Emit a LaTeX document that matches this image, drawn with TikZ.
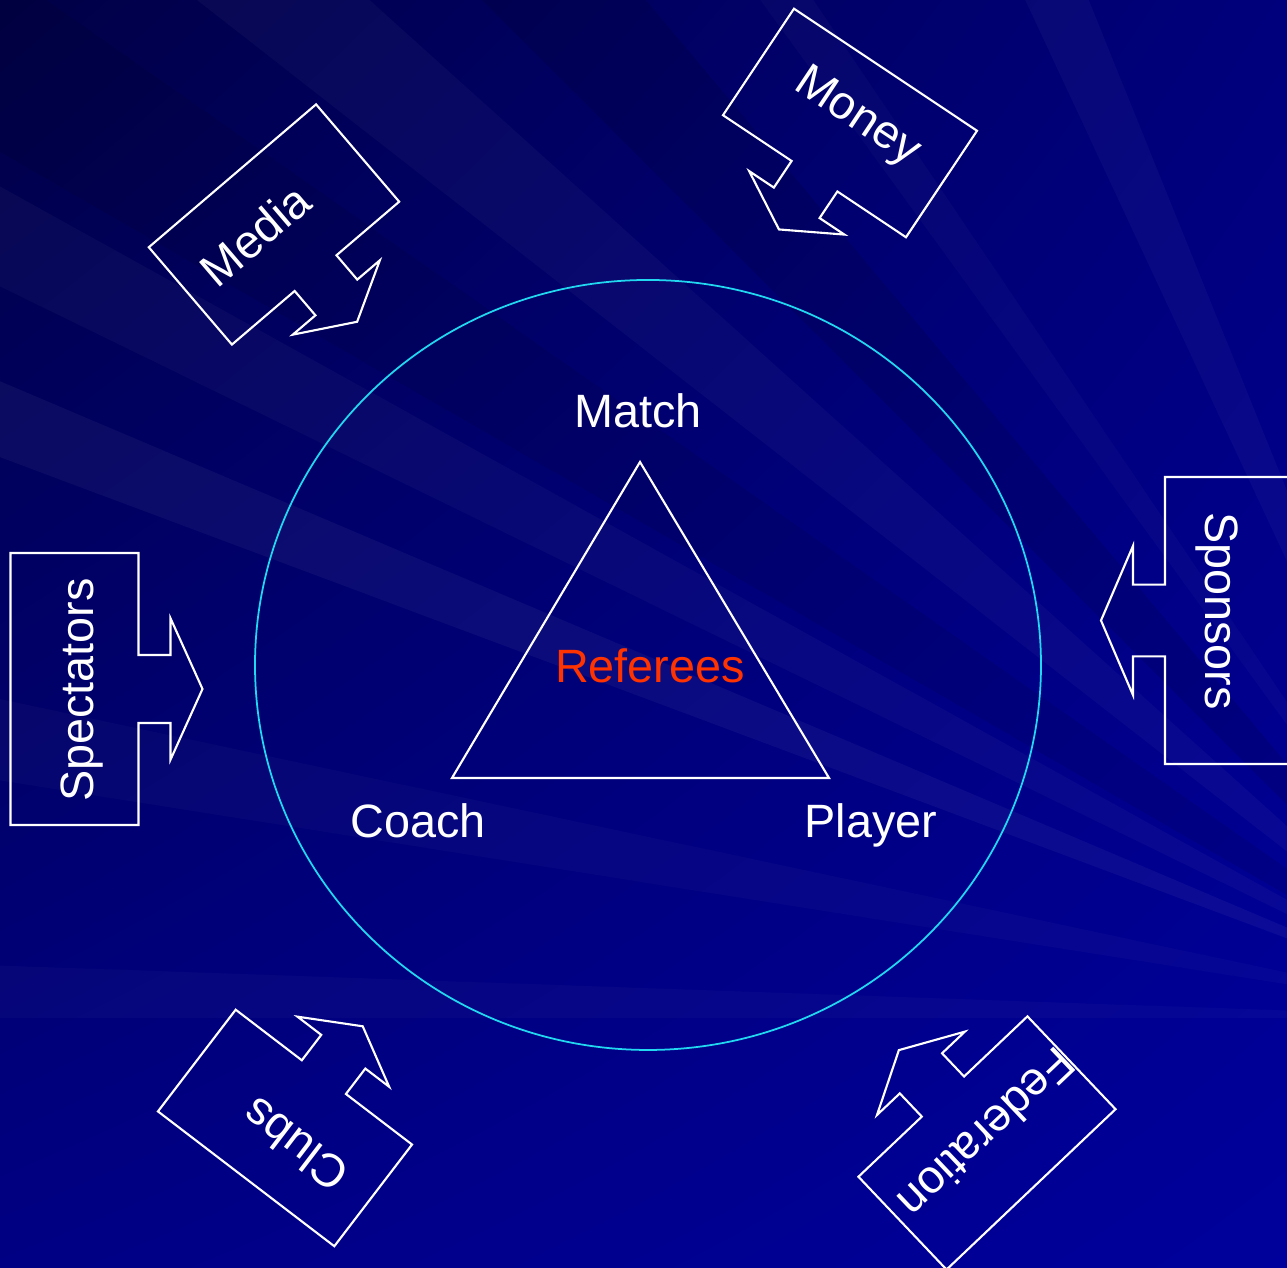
\documentclass[tikz,border=0pt]{standalone}
\usepackage{fontspec}
\setmainfont{Liberation Sans}
\usepackage{tikz}
\usetikzlibrary{shadings}

\definecolor{bgtl}{HTML}{000046}
\definecolor{bgtr}{HTML}{00007C}
\definecolor{bgbl}{HTML}{000084}
\definecolor{bgbr}{HTML}{00009C}
\definecolor{ringcol}{HTML}{22D8F0}
\definecolor{refcol}{HTML}{FF3300}

\newcommand{\arrowbox}[3]{%
	\draw[boxline, shift={#1}, rotate=#2] (-64,-#3) -- (64,-#3) -- (64,{-0.25*#3}) -- (96,{-0.25*#3}) -- (96,{-0.52*#3}) -- (128,0) -- (96,{0.52*#3}) -- (96,{0.25*#3}) -- (64,{0.25*#3}) -- (64,#3) -- (-64,#3) -- cycle;}

\begin{document}
\begin{tikzpicture}[x=0.01cm, y=0.01cm,
		boxline/.style={draw=white, line width=0.6pt},
		lbl/.style={text=white, font=\fontsize{13.3}{16}\selectfont},
		ring/.style={draw=ringcol, line width=0.5pt}]
	\useasboundingbox (0,0) rectangle (1287,1268);
	\clip (0,0) rectangle (1287,1268);
	\shade[upper left=bgtl, upper right=bgtr, lower left=bgbl, lower right=bgbr] (0,0) rectangle (1287,1268);
	\foreach \a/\w/\c/\o in {112/3/white/0.03, 124/2/white/0.025, 130/5/black/0.10, 138/4/white/0.03, 145/5/black/0.08, 151/3/white/0.03, 157/2.5/white/0.045, 168/3/white/0.025, 178/2/white/0.025}
		\fill[\c, opacity=\o] (1500,250) -- +(\a:3000) -- +(\a+\w:3000) -- cycle;

	\draw[ring] (648,603) ellipse [x radius=393, y radius=385];
	\coordinate (top) at (640,806);
	\coordinate (left) at (452,490);
	\coordinate (right) at (829,490);
	\draw[boxline] (top) -- (right) -- (left) -- cycle;
	\node[lbl, anchor=base] (match) at (638,840) {Match};
	\node[lbl, anchor=base, text=refcol] (referees) at (650,585) {Referees};
	\node[lbl, anchor=base] (coach) at (418,430) {Coach};
	\node[lbl, anchor=base] (player) at (871,430) {Player};

	\arrowbox{(274,1043.5)}{-49.5}{110}
	\arrowbox{(850,1145)}{-123.7}{110}
	\arrowbox{(74.5,579)}{0}{136}
	\arrowbox{(1229,647.5)}{180}{143.5}
	\arrowbox{(285,140)}{52.6}{111}
	\arrowbox{(987,125)}{133.5}{116.5}
	\node[lbl, rotate=40.5] (media) at (255,1033) {Media};
	\node[lbl, rotate=-33.7] (money) at (857,1150) {Money};
	\node[lbl, rotate=90] (spectators) at (82,578) {Spectators};
	\node[lbl, rotate=-90] (sponsors) at (1217,657) {Sponsors};
	\node[lbl, rotate=142.6] (clubs) at (295,123) {Clubs};
	\node[lbl, rotate=-136.5] (federation) at (987,134) {Federation};
\end{tikzpicture}
\end{document}
